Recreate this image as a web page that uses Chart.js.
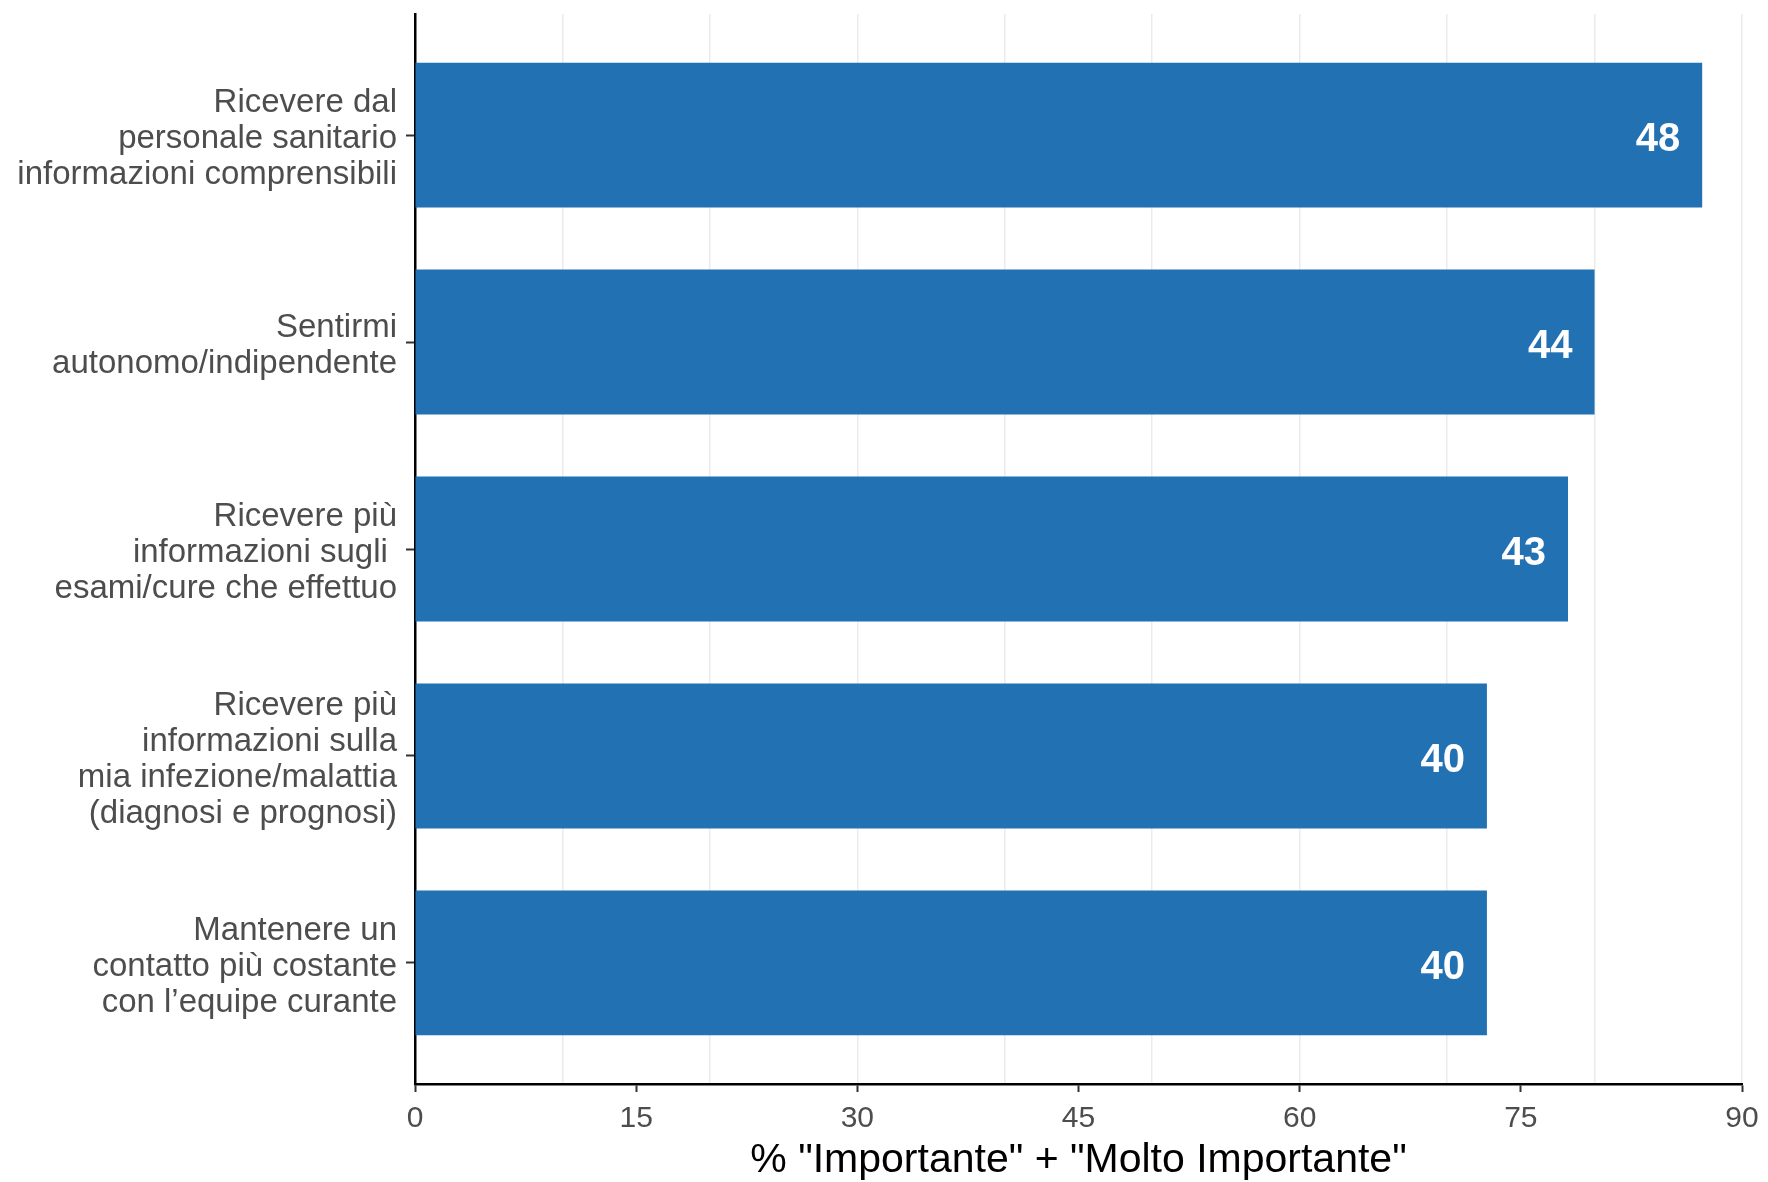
<!DOCTYPE html>
<html lang="it">
<head>
<meta charset="utf-8">
<title>Importante + Molto Importante</title>
<script src="https://cdn.jsdelivr.net/npm/chart.js@4/dist/chart.umd.min.js"></script>
<style>
  html, body { margin: 0; padding: 0; background: #fff; }
  #wrap { width: 1768px; height: 1182px; position: relative; }
</style>
</head>
<body>
<div id="wrap"><canvas id="chart"></canvas></div>
<script>
// categorie (dall'alto in basso), una riga per elemento
const categories = [
  ["Ricevere dal", "personale sanitario", "informazioni comprensibili"],
  ["Sentirmi", "autonomo/indipendente"],
  ["Ricevere più", "informazioni sugli ", "esami/cure che effettuo"],
  ["Ricevere più", "informazioni sulla", "mia infezione/malattia", "(diagnosi e prognosi)"],
  ["Mantenere un", "contatto più costante", "con l’equipe curante"]
];

// % "Importante" + "Molto Importante" (lunghezza barre)
const percentages = [87.3, 80.0, 78.2, 72.7, 72.7];
// numero di risposte (etichette sulle barre)
const counts = [48, 44, 43, 40, 40];

const xMin = 0;
const xMax = 90;
const xTickStep = 15;
const xGridStep = 10;
const xTitle = '% "Importante" + "Molto Importante"';

const FONT = "'Liberation Sans', Arial, Helvetica, sans-serif";
const BAR_COLOR = "#2271b3";
const TEXT_GRAY = "#4d4d4d";

// etichette bianche dentro la barra, allineate a destra
const barLabels = {
  id: "barLabels",
  afterDatasetsDraw(chart) {
    const { ctx } = chart;
    const meta = chart.getDatasetMeta(0);
    ctx.save();
    ctx.fillStyle = "#ffffff";
    ctx.font = "bold 40px " + FONT;
    ctx.textAlign = "right";
    ctx.textBaseline = "middle";
    meta.data.forEach((bar, i) => {
      ctx.fillText(String(counts[i]), bar.x - 22, bar.y + 5);
    });
    ctx.restore();
  }
};

const ctx = document.getElementById("chart").getContext("2d");
new Chart(ctx, {
  type: "bar",
  data: {
    datasets: [{
      data: percentages.map((v, i) => ({ x: v, y: i })),
      backgroundColor: BAR_COLOR,
      borderWidth: 0,
      barPercentage: 0.7,
      categoryPercentage: 1
    }]
  },
  options: {
    indexAxis: "y",
    responsive: true,
    maintainAspectRatio: false,
    animation: false,
    events: [],
    layout: { padding: { top: 14, right: 26, bottom: 0, left: 0 } },
    plugins: {
      legend: { display: false },
      tooltip: { enabled: false }
    },
    scales: {
      x: {
        type: "linear",
        position: "bottom",
        min: xMin,
        max: xMax,
        afterFit: (s) => { s.height = 98; },
        ticks: {
          stepSize: xTickStep,
          color: TEXT_GRAY,
          font: { family: FONT, size: 30 },
          padding: 9
        },
        grid: {
          drawOnChartArea: false,
          drawTicks: true,
          tickLength: 8,
          tickColor: "#333333",
          tickWidth: 2
        },
        border: { display: true, color: "#000000", width: 2.5 },
        title: {
          display: true,
          text: xTitle,
          color: "#000000",
          font: { family: FONT, size: 41, lineHeight: 1 },
          padding: { top: 0, bottom: 1 }
        }
      },
      xGrid: {
        type: "linear",
        position: "bottom",
        min: xMin,
        max: xMax,
        afterFit: (s) => { s.height = 0; },
        ticks: { display: false, stepSize: xGridStep },
        grid: {
          drawTicks: false,
          color: (c) => (c.tick && c.tick.value === 0 ? "rgba(0,0,0,0)" : "#ebebeb"),
          lineWidth: 1.5
        },
        border: { display: false }
      },
      y: {
        type: "linear",
        position: "left",
        reverse: true,
        offset: false,
        min: -0.585,
        max: categories.length - 1 + 0.585,
        afterFit: (s) => {
          s.width = 415;
          // le etichette non stanno ai bordi: niente padding extra
          s.paddingTop = 0;
          s.paddingBottom = 0;
        },
        afterBuildTicks: (s) => {
          s.ticks = categories.map((_, i) => ({ value: i }));
        },
        ticks: {
          color: TEXT_GRAY,
          font: { family: FONT, size: 33, lineHeight: 1.09 },
          padding: 9,
          labelOffset: 4,
          callback: (v) => categories[v]
        },
        grid: {
          offset: false,
          drawOnChartArea: false,
          drawTicks: true,
          tickLength: 9,
          tickColor: "#333333",
          tickWidth: 2
        },
        border: { display: true, color: "#000000", width: 2.5 }
      }
    }
  },
  plugins: [barLabels]
});
</script>
</body>
</html>
